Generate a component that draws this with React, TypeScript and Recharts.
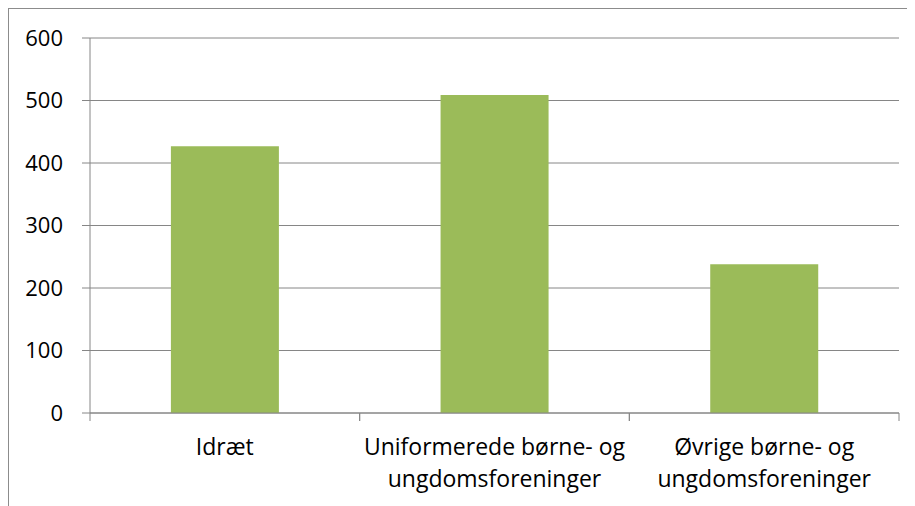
import { BarChart, Bar, XAxis, YAxis, CartesianGrid } from "recharts";

const categories = ["Idræt", "Uniformerede børne- og\nungdomsforeninger", "Øvrige børne- og\nungdomsforeninger"];
const values = [427, 509, 238];
const yTicks = [0, 100, 200, 300, 400, 500, 600];

const data = categories.map((name, i) => ({ name, value: values[i] }));

const GRAY = "#868686";
const FONT = "'Open Sans', sans-serif";
const AXIS_Y = 404;

// category label plus the tick marks at the band edges (Excel style)
function CategoryTick(props: any) {
  const { x, payload } = props;
  const half = payload.offset ?? 0;
  const lines = String(payload.value).split("\n");
  return (
    <g>
      <line x1={x - half} x2={x - half} y1={AXIS_Y} y2={AXIS_Y + 8} stroke={GRAY} />
      <line x1={x + half} x2={x + half} y1={AXIS_Y} y2={AXIS_Y + 8} stroke={GRAY} />
      <text x={x} y={AXIS_Y} textAnchor="middle" fontFamily={FONT} fontSize={23} fill="#000">
        {lines.map((line, i) => (
          <tspan key={i} x={x} dy={i === 0 ? 42 : 32}>
            {line}
          </tspan>
        ))}
      </text>
    </g>
  );
}

export default function App() {
  return (
    <div style={{ width: 920, height: 520, border: "1px solid #8c8c8c", background: "#fff" }}>
      <BarChart
        width={906}
        height={497}
        data={data}
        margin={{ top: 29, right: 16, left: 0, bottom: 0 }}
        barCategoryGap="30%"
      >
        <CartesianGrid vertical={false} stroke={GRAY} strokeDasharray="" />
        <XAxis
          dataKey="name"
          height={93}
          tick={<CategoryTick />}
          tickLine={false}
          axisLine={{ stroke: GRAY }}
          interval={0}
        />
        <YAxis
          width={81}
          domain={[0, 600]}
          ticks={yTicks}
          tickSize={8}
          tickMargin={19}
          axisLine={{ stroke: GRAY }}
          tickLine={{ stroke: GRAY }}
          tick={{ fill: "#000", fontSize: 22, fontFamily: FONT }}
        />
        <Bar dataKey="value" fill="#9BBB59" isAnimationActive={false} />
      </BarChart>
    </div>
  );
}
